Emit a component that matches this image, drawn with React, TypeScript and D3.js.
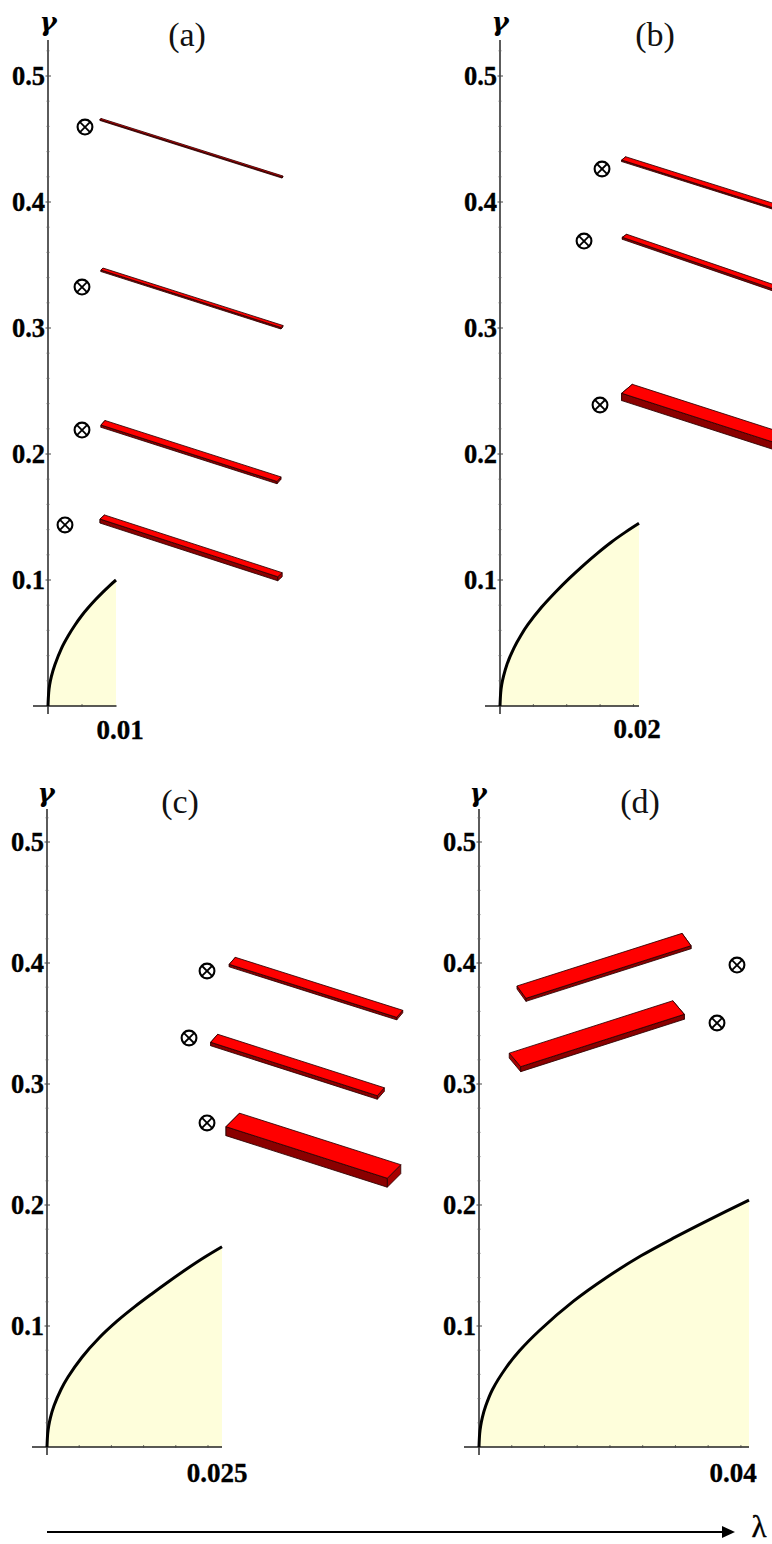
import React from "react";
import * as d3 from "d3";

// ---------- data (λ, γ units) ----------
const gammaTicks = [0.1, 0.2, 0.3, 0.4, 0.5];
const gammaMinor = [0.02,0.04,0.06,0.08,0.12,0.14,0.16,0.18,0.22,0.24,0.26,0.28,0.32,0.34,0.36,0.38,0.42,0.44,0.46,0.48,0.52];

const curveA = [[0,0],[0.0001,0.0105],[0.00025,0.017],[0.0005,0.0235],[0.001,0.0325],[0.002,0.046],[0.003,0.056],[0.004,0.0645],[0.005,0.072],[0.006,0.0785],[0.007,0.0845],[0.008,0.09],[0.009,0.0952],[0.01,0.1]];
const curveB = [[0,0],[0.0001,0.0105],[0.00025,0.017],[0.0005,0.0235],[0.001,0.033],[0.002,0.046],[0.003,0.056],[0.004,0.0645],[0.006,0.0785],[0.008,0.0905],[0.01,0.1015],[0.012,0.1117],[0.014,0.1212],[0.016,0.13],[0.018,0.1378],[0.02,0.145]];
const curveC = [[0,0],[0.0001,0.011],[0.00025,0.0175],[0.0005,0.0245],[0.001,0.034],[0.002,0.0475],[0.003,0.0578],[0.005,0.0742],[0.0075,0.0905],[0.01,0.104],[0.0125,0.1158],[0.015,0.1267],[0.0175,0.1372],[0.02,0.1473],[0.0225,0.1568],[0.025,0.1655]];
const curveD = [[0,0],[0.0001,0.011],[0.00025,0.0175],[0.0005,0.0245],[0.001,0.034],[0.002,0.0475],[0.004,0.0655],[0.006,0.0795],[0.009,0.0965],[0.014,0.1205],[0.019,0.1405],[0.024,0.158],[0.029,0.1732],[0.034,0.1875],[0.04,0.204]];

// bars: [λ left, γ left, λ right, γ right, depth λ, depth γ, thickness γ]
const barsA = [
  [0.00765,0.4655,0.03441,0.4198,0.00015,0.0008,0.0008],
  [0.00779,0.346,0.03426,0.3004,0.00029,0.0016,0.0012],
  [0.00779,0.223,0.03368,0.1782,0.00059,0.0036,0.0018],
  [0.00765,0.1484,0.03378,0.1026,0.00066,0.0032,0.0032],
];
const barsB = [
  [0.01751,0.4333,0.0436,0.3879,0.00058,0.0026,0.0012],
  [0.0176,0.372,0.0436,0.3228,0.00063,0.0024,0.0016],
  [0.01751,0.2482,0.0436,0.2018,0.00153,0.0071,0.0058],
];
const barsC = [
  [0.02604,0.3989,0.04996,0.3551,0.00086,0.0058,0.0021],
  [0.02339,0.3345,0.04719,0.2903,0.001,0.0066,0.0029],
  [0.02557,0.2647,0.04861,0.2221,0.00193,0.0112,0.0074],
];
const barsD = [
  [0.00696,0.3708,0.03141,0.4143,-0.00133,0.0102,0.0025],
  [0.00618,0.3143,0.03041,0.3576,-0.0017,0.0112,0.0041],
];

const markersA = [[0.00544,0.4595],[0.005,0.3325],[0.005,0.219],[0.0025,0.1437]];
const markersB = [[0.01468,0.4262],[0.01209,0.369],[0.01439,0.2389]];
const markersC = [[0.02286,0.3934],[0.02029,0.338],[0.02286,0.2678]];
const markersD = [[0.03822,0.3983],[0.03526,0.3504]];

const minorA = [0.005];
const minorB = [0.0048, 0.0096, 0.0144, 0.0192];
const minorC = [0.0046, 0.0092, 0.0138, 0.0184, 0.023];
const minorD = [0.00485, 0.0097, 0.01455, 0.0194, 0.02425, 0.0291, 0.03395, 0.0388];

// ---------- layout ----------
const panels = [
  { title: "(a)", titleX: 187, titleY: 46, x0: 48, xEnd: 116.5, kx: 6800, y0: 706, ky: 1260, top: 40, left: 33, lam: 0.01, lamLabel: "0.01", lamX: 120, lamY: 739, labelRight: 45, gX: 48, gY: 31, curve: curveA, bars: barsA, markers: markersA, minor: minorA },
  { title: "(b)", titleX: 655, titleY: 46, x0: 500, xEnd: 639, kx: 6950, y0: 706, ky: 1260, top: 40, left: 485, lam: 0.02, lamLabel: "0.02", lamX: 637, lamY: 738, labelRight: 497, gX: 500, gY: 31, curve: curveB, bars: barsB, markers: markersB, minor: minorB },
  { title: "(c)", titleX: 180, titleY: 813, x0: 47, xEnd: 222, kx: 7000, y0: 1447, ky: 1210, top: 809, left: 32, lam: 0.025, lamLabel: "0.025", lamX: 217, lamY: 1482, labelRight: 44, gX: 46, gY: 802, curve: curveC, bars: barsC, markers: markersC, minor: minorC },
  { title: "(d)", titleX: 640, titleY: 813, x0: 479, xEnd: 749, kx: 6750, y0: 1447, ky: 1210, top: 809, left: 464, lam: 0.04, lamLabel: "0.04", lamX: 733, lamY: 1482, labelRight: 476, gX: 478, gY: 802, curve: curveD, bars: barsD, markers: markersD, minor: minorD },
];

const SERIF = "'Liberation Serif', 'Times New Roman', serif";

function Panel({ p }: { p: (typeof panels)[number] }) {
  const x = d3.scaleLinear().domain([0, p.lam]).range([p.x0, p.x0 + p.lam * p.kx]);
  const y = d3.scaleLinear().domain([0, 0.5]).range([p.y0, p.y0 - 0.5 * p.ky]);
  const smooth = d3.curveCatmullRom.alpha(0.5);
  const area = d3.area<number[]>().x((d) => x(d[0])).y0(y(0)).y1((d) => y(d[1])).curve(smooth);
  const line = d3.line<number[]>().x((d) => x(d[0])).y((d) => y(d[1])).curve(smooth);
  return (
    <g>
      <path d={area(p.curve)!} fill="#fefedb" />
      <line x1={p.left} x2={p.xEnd} y1={p.y0} y2={p.y0} stroke="#222" strokeWidth={1.5} />
      <line x1={p.x0} x2={p.x0} y1={p.top} y2={p.y0 + 8} stroke="#333" strokeWidth={1.6} />
      {gammaTicks.map((t) => (
        <g key={t}>
          <line x1={p.x0 - 2.5} x2={p.x0 + 3} y1={y(t)} y2={y(t)} stroke="#444" strokeWidth={1} />
          <text x={p.labelRight} y={y(t) + 9} textAnchor="end" fontFamily={SERIF} fontWeight="bold" fontSize={26.5} fill="#000" stroke="#000" strokeWidth={0.35}>{t.toFixed(1)}</text>
        </g>
      ))}
      {gammaMinor.map((t) => (
        <line key={t} x1={p.x0 - 1.5} x2={p.x0 + 1.5} y1={y(t)} y2={y(t)} stroke="#666" strokeWidth={0.8} />
      ))}
      {p.minor.map((t) => (
        <line key={t} x1={x(t)} x2={x(t)} y1={p.y0 - 2} y2={p.y0 + 1} stroke="#444" strokeWidth={0.8} />
      ))}
      <path d={line(p.curve)!} fill="none" stroke="#000" strokeWidth={3} />
      {p.bars.map((b, i) => {
        const [lL, gL, lR, gR, dl, dg, t] = b;
        const pt = (l: number, g: number) => `${x(l)},${y(g)}`;
        const top = [pt(lL, gL), pt(lL + dl, gL + dg), pt(lR + dl, gR + dg), pt(lR, gR)].join(" ");
        const front = [pt(lL, gL), pt(lR, gR), pt(lR, gR - t), pt(lL, gL - t)].join(" ");
        const endR = [pt(lR, gR), pt(lR + dl, gR + dg), pt(lR + dl, gR + dg - t), pt(lR, gR - t)].join(" ");
        const endL = [pt(lL, gL), pt(lL + dl, gL + dg), pt(lL + dl, gL + dg - t), pt(lL, gL - t)].join(" ");
        return (
          <g key={i} stroke="#2a0000" strokeWidth={0.85} strokeLinejoin="round">
            <polygon points={endL} fill="#a80000" />
            <polygon points={endR} fill="#a80000" />
            <polygon points={front} fill="#8a0000" />
            <polygon points={top} fill="#ff0000" />
          </g>
        );
      })}
      {p.markers.map((m, i) => {
        const cx = x(m[0]);
        const cy = y(m[1]);
        const r = 7.4;
        const q = r * Math.SQRT1_2;
        return (
          <g key={i} stroke="#000" fill="none">
            <circle cx={cx} cy={cy} r={r} strokeWidth={2.1} fill="#fff" />
            <line x1={cx - q} y1={cy - q} x2={cx + q} y2={cy + q} strokeWidth={1.8} />
            <line x1={cx - q} y1={cy + q} x2={cx + q} y2={cy - q} strokeWidth={1.8} />
          </g>
        );
      })}
      <text x={p.titleX} y={p.titleY} textAnchor="middle" fontFamily={SERIF} fontSize={34} fill="#111">{p.title}</text>
      <text x={p.gX} y={p.gY} textAnchor="middle" fontFamily="'DejaVu Serif', serif" fontStyle="italic" fontWeight="bold" fontSize={26} fill="#000">γ</text>
      <text x={p.lamX} y={p.lamY} textAnchor="middle" fontFamily={SERIF} fontWeight="bold" fontSize={27} fill="#000" stroke="#000" strokeWidth={0.35}>{p.lamLabel}</text>
    </g>
  );
}

export default function App() {
  return (
    <svg width={772} height={1544} viewBox="0 0 772 1544" style={{ position: "absolute", left: 0, top: 0, background: "#fff" }}>
      {panels.map((p) => (
        <Panel key={p.title} p={p} />
      ))}
      <line x1={47} x2={724} y1={1532} y2={1532} stroke="#000" strokeWidth={2.2} />
      <polygon points="735,1532 722,1526 722,1538" fill="#000" />
      <text x={759} y={1537} textAnchor="middle" fontFamily={SERIF} fontSize={31} fill="#000" stroke="#000" strokeWidth={0.4}>λ</text>
    </svg>
  );
}
